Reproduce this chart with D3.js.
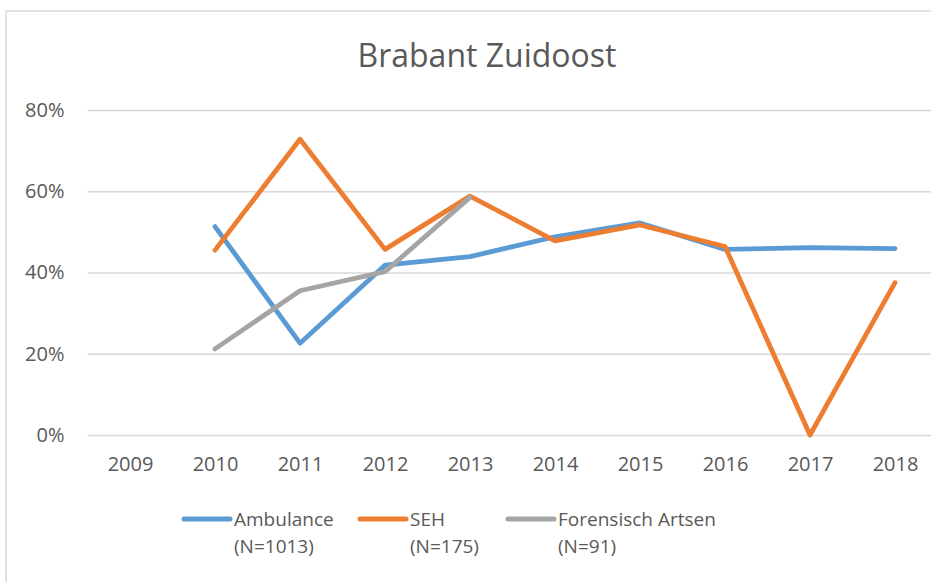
<!DOCTYPE html>
<html>
<head>
<meta charset="utf-8">
<script src="https://cdn.jsdelivr.net/npm/d3@7"></script>
<style>
	body { margin: 0; background: #fff; }
	svg text { font-family: 'Open Sans', sans-serif; fill: #595959; }
</style>
</head>
<body>
<div id="chart"></div>
<script>
// Brabant Zuidoost line chart

var years = ['2009', '2010', '2011', '2012', '2013', '2014', '2015', '2016', '2017', '2018'];
var ambulance = [null, 0.513, 0.226, 0.418, 0.439, 0.488, 0.522, 0.457, 0.461, 0.459];
var seh = [null, 0.455, 0.728, 0.457, 0.588, 0.478, 0.517, 0.464, 0.0, 0.375];
var forensisch = [null, 0.212, 0.355, 0.402, 0.585, null, null, null, null, null];
var yTicks = [0, 0.2, 0.4, 0.6, 0.8];
var seriesNames = ['Ambulance', 'SEH', 'Forensisch Artsen'];
var seriesCounts = ['(N=1013)', '(N=175)', '(N=91)'];

var width = 931,
	height = 582,
	margin = { top: 110, bottom: 147, left: 87.5, right: -6.5 },
	drawWidth = width - margin.left - margin.right,
	drawHeight = height - margin.top - margin.bottom;

var colors = ['#5b9bd5', '#ed7d31', '#a5a5a5'];
var series = [ambulance, seh, forensisch];

var svg = d3.select('#chart').append('svg')
	.attr('width', width)
	.attr('height', height);

// outer chart border (only top and left fit in the frame)
svg.append('rect')
	.attr('x', 6)
	.attr('y', 11)
	.attr('width', width + 20)
	.attr('height', height + 20)
	.attr('fill', 'none')
	.attr('stroke', '#d9d9d9')
	.attr('stroke-width', 1.5);

svg.append('text')
	.attr('x', 487)
	.attr('y', 67)
	.attr('text-anchor', 'middle')
	.attr('font-size', 32)
	.text('Brabant Zuidoost');

var g = svg.append('g')
	.attr('transform', 'translate(' + margin.left + ',' + margin.top + ')');

var xScale = d3.scalePoint()
	.domain(years)
	.range([0, drawWidth])
	.padding(0.5);

var yScale = d3.scaleLinear()
	.domain([0, 0.8])
	.range([drawHeight, 0]);

// gridlines + y labels
var yAxis = d3.axisLeft(yScale)
	.tickValues(yTicks)
	.tickFormat(d3.format('.0%'))
	.tickSize(-drawWidth)
	.tickPadding(23);

var yAxisG = g.append('g').call(yAxis);
yAxisG.select('.domain').remove();
yAxisG.selectAll('line').attr('stroke', '#d9d9d9').attr('stroke-width', 1.5);
yAxisG.selectAll('text')
	.attr('font-size', 20)
	.style('font-family', "'Open Sans', sans-serif")
	.attr('fill', '#595959');

var xAxis = d3.axisBottom(xScale).tickSize(0).tickPadding(22);
var xAxisG = g.append('g')
	.attr('transform', 'translate(0,' + drawHeight + ')')
	.call(xAxis);
xAxisG.select('.domain').remove();
xAxisG.selectAll('text')
	.attr('font-size', 20)
	.style('font-family', "'Open Sans', sans-serif")
	.attr('fill', '#595959');

var line = d3.line()
	.defined(function(d) { return d != null; })
	.x(function(d, i) { return xScale(years[i]); })
	.y(function(d) { return yScale(d); });

series.forEach(function(s, i) {
	g.append('path')
		.datum(s)
		.attr('fill', 'none')
		.attr('stroke', colors[i])
		.attr('stroke-width', 4.8)
		.attr('stroke-linejoin', 'round')
		.attr('stroke-linecap', 'round')
		.attr('d', line);
});

// legend
var legendX = [184, 360, 508];
var legend = svg.selectAll('.legend')
	.data(seriesNames)
	.enter().append('g')
	.attr('class', 'legend')
	.attr('transform', function(d, i) { return 'translate(' + legendX[i] + ',519)'; });

legend.append('line')
	.attr('x1', 0)
	.attr('x2', 46)
	.attr('y1', 0)
	.attr('y2', 0)
	.attr('stroke', function(d, i) { return colors[i]; })
	.attr('stroke-width', 5)
	.attr('stroke-linecap', 'round');

legend.append('text')
	.attr('x', 50)
	.attr('y', 7)
	.attr('font-size', 19)
	.text(function(d) { return d; });

legend.append('text')
	.attr('x', 50)
	.attr('y', 34)
	.attr('font-size', 19)
	.text(function(d, i) { return seriesCounts[i]; });
</script>
</body>
</html>
